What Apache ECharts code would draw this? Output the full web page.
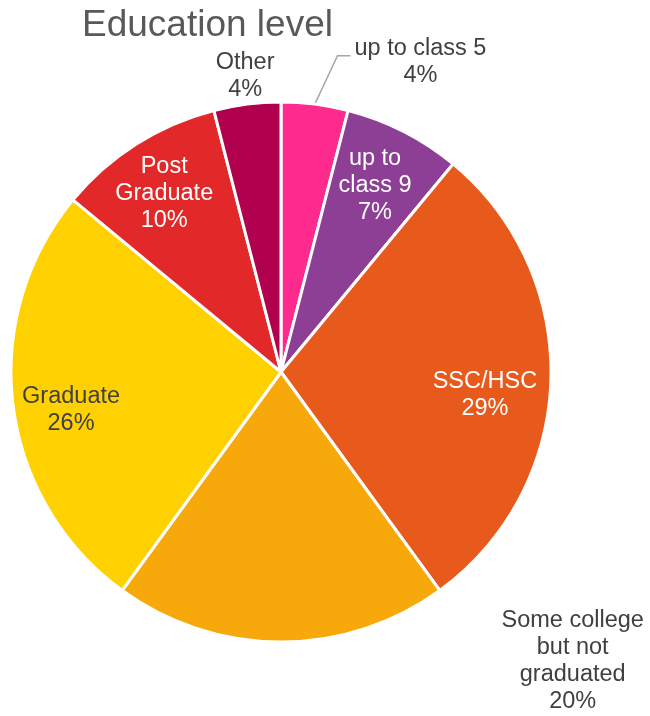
<!DOCTYPE html>
<html>
<head>
<meta charset="utf-8">
<script src="https://cdn.jsdelivr.net/npm/echarts@6/dist/echarts.min.js"></script>
<style>
  html, body { margin: 0; padding: 0; background: #ffffff; }
  #chart { width: 650px; height: 716px; }
</style>
</head>
<body>
<div id="chart"></div>
<script>
// Education level shares (percent), clockwise from 12 o'clock
var categories = ['up to class 5', 'up to\nclass 9', 'SSC/HSC', 'Some college\nbut not\ngraduated', 'Graduate', 'Post\nGraduate', 'Other'];
var shares = [4, 7, 29, 20, 26, 10, 4];

var sliceColors = ['#FF2A8E', '#8C3F95', '#E8591C', '#F7A80B', '#FFD100', '#E22828', '#B0004E'];
var labelColors = ['#404040', '#FFFFFF', '#FFFFFF', '#404040', '#404040', '#FFFFFF', '#404040'];
// label placement: angular shift from the slice middle (deg) and distance as a fraction of the radius
var labelAngleShift = [17, -0.3, 4.6, -45.3, -3, -0.8, 0.3];
var labelRadiusFactor = [1.26, 0.775, 0.76, 1.52, 0.79, 0.79, 1.106];

var CX = 281, CY = 372, R = 270;
var total = shares.reduce(function (a, b) { return a + b; }, 0);

// middle angle of each slice, degrees clockwise from 12 o'clock
var midAngles = [];
(function () {
  var acc = 0;
  for (var i = 0; i < shares.length; i++) {
    midAngles.push((acc + shares[i] / 2) / total * 360);
    acc += shares[i];
  }
})();

function polar(angleDeg, dist) {
  var a = angleDeg * Math.PI / 180;
  return [CX + Math.sin(a) * dist, CY - Math.cos(a) * dist];
}

var chart = echarts.init(document.getElementById('chart'), null, { renderer: 'canvas' });

var data = categories.map(function (name, i) {
  return {
    name: name,
    value: shares[i],
    itemStyle: { color: sliceColors[i] },
    label: { color: labelColors[i] },
    labelLine: { show: i === 0 }
  };
});

chart.setOption({
  animation: false,
  backgroundColor: '#ffffff',
  title: {
    text: 'Education level',
    left: 77,
    top: 2,
    textStyle: {
      fontFamily: 'Liberation Sans, Arial, sans-serif',
      fontSize: 37,
      lineHeight: 37,
      fontWeight: 'normal',
      color: '#595959'
    }
  },
  series: [{
    type: 'pie',
    center: [CX, CY],
    radius: [0, R],
    startAngle: 90,
    clockwise: true,
    percentPrecision: 0,
    avoidLabelOverlap: false,
    itemStyle: { borderColor: '#ffffff', borderWidth: 3 },
    label: {
      show: true,
      position: 'outside',
      formatter: '{b}\n{d}%',
      fontFamily: 'Liberation Sans, Arial, sans-serif',
      fontSize: 23.5,
      lineHeight: 27,
      align: 'center'
    },
    labelLine: {
      show: true,
      lineStyle: { color: '#A6A6A6', width: 1.5 }
    },
    labelLayout: function (params) {
      var i = params.dataIndex;
      var p = polar(midAngles[i] + labelAngleShift[i], labelRadiusFactor[i] * R);
      var out = {
        x: p[0],
        y: p[1],
        align: 'center',
        verticalAlign: 'middle'
      };
      if (i === 0) {
        var start = polar(midAngles[i], R);
        var left = p[0] - params.labelRect.width / 2;
        var yLine = p[1] - 6;
        out.labelLinePoints = [start, [left - 17, yLine], [left - 4, yLine]];
      }
      return out;
    },
    data: data
  }]
});
</script>
</body>
</html>
